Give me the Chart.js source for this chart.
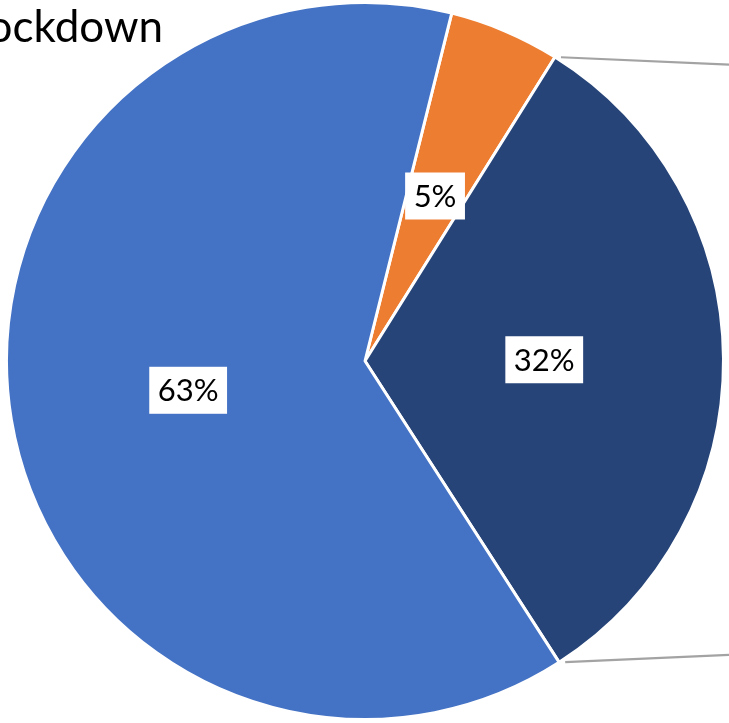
<!DOCTYPE html>
<html>
<head>
<meta charset="utf-8">
<script src="https://cdn.jsdelivr.net/npm/chart.js@4/dist/chart.umd.min.js"></script>
<style>
  html, body { margin: 0; padding: 0; background: #ffffff; }
  #wrap { width: 729px; height: 723px; position: relative; overflow: hidden; }
</style>
</head>
<body>
<div id="wrap"><canvas id="c" width="729" height="723"></canvas></div>
<script>
// Slices of the main pie (percent of responses)
const categories = ['Less', 'Other', 'More'];
const shares = [5, 32, 63];
const sliceColors = ['#ED7D31', '#264478', '#4472C4'];
const titleText = 'Lockdown';

// Percent labels in white boxes at the middle of each slice
const percentLabels = {
  id: 'percentLabels',
  afterDatasetsDraw(chart) {
    const ctx = chart.ctx;
    const meta = chart.getDatasetMeta(0);
    const data = chart.data.datasets[0].data;
    const total = data.reduce((a, b) => a + b, 0);
    ctx.save();
    ctx.font = '31px Lato';
    ctx.textAlign = 'center';
    ctx.textBaseline = 'middle';
    meta.data.forEach((arc, i) => {
      const p = arc.tooltipPosition();
      const txt = Math.round(data[i] / total * 100) + '%';
      const w = ctx.measureText(txt).width + 17;
      const h = 47;
      ctx.fillStyle = '#ffffff';
      ctx.fillRect(p.x - w / 2, p.y - h / 2, w, h);
      ctx.fillStyle = '#000000';
      ctx.fillText(txt, p.x, p.y + 1);
    });
    ctx.restore();
  }
};

// Connector lines from the "Other" slice towards the secondary pie
const connectors = {
  id: 'connectors',
  afterDatasetsDraw(chart) {
    const ctx = chart.ctx;
    const arc = chart.getDatasetMeta(0).data[1];
    const r = arc.outerRadius;
    const xEnd = chart.width;
    ctx.save();
    ctx.strokeStyle = '#A3A3A3';
    ctx.lineWidth = 2.2;
    [arc.startAngle, arc.endAngle].forEach(a => {
      const x0 = arc.x + Math.cos(a) * r;
      const y0 = arc.y + Math.sin(a) * r;
      const y1 = y0 + (arc.y - y0) * 0.025;
      const t = 6 / (xEnd - x0);
      ctx.beginPath();
      ctx.moveTo(x0 + (xEnd - x0) * t, y0 + (y1 - y0) * t);
      ctx.lineTo(xEnd, y1);
      ctx.stroke();
    });
    ctx.restore();
  }
};

// Chart title, running off the left edge
const titleDraw = {
  id: 'titleDraw',
  afterDraw(chart) {
    const ctx = chart.ctx;
    ctx.save();
    ctx.font = '44px Lato';
    ctx.fillStyle = '#000000';
    ctx.textAlign = 'right';
    ctx.textBaseline = 'alphabetic';
    ctx.fillText(titleText, 163, 42);
    ctx.restore();
  }
};

new Chart(document.getElementById('c'), {
  type: 'pie',
  data: {
    labels: categories,
    datasets: [{
      data: shares,
      backgroundColor: sliceColors,
      borderColor: '#ffffff',
      borderWidth: 3
    }]
  },
  options: {
    responsive: false,
    animation: false,
    rotation: 14,
    layout: { padding: { left: 5, right: 4, top: 1, bottom: 2 } },
    plugins: {
      legend: { display: false },
      tooltip: { enabled: false },
      title: { display: false }
    }
  },
  plugins: [connectors, percentLabels, titleDraw]
});
</script>
</body>
</html>
